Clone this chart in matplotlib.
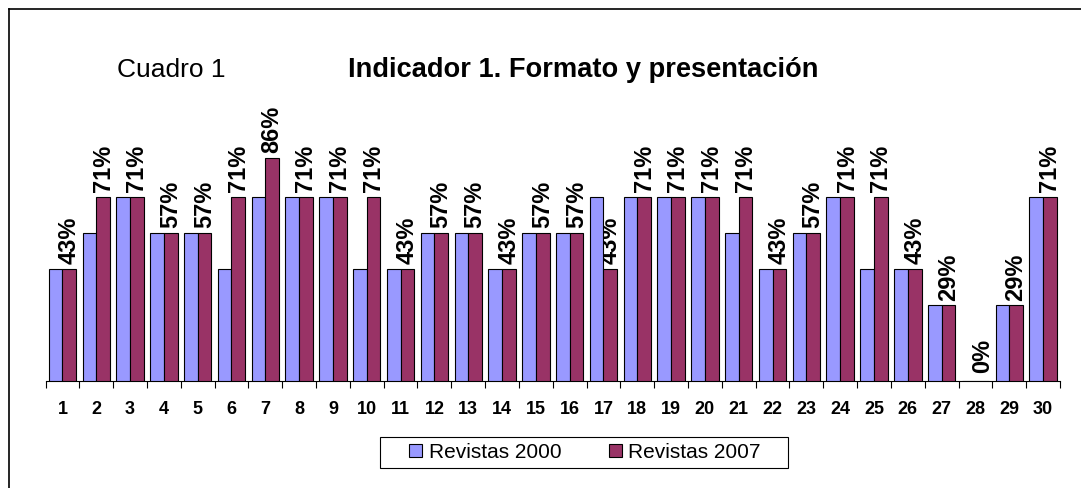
import matplotlib
matplotlib.use("Agg")
import matplotlib.pyplot as plt
from matplotlib.lines import Line2D
from matplotlib.patches import Patch, Rectangle
import numpy as np

plt.rcParams['font.family'] = ['Liberation Sans', 'DejaVu Sans']

categories = [str(i) for i in range(1, 31)]
revistas_2000 = [43, 57, 71, 57, 57, 43, 71, 71, 71, 43,
                 43, 57, 57, 43, 57, 57, 71, 71, 71, 71,
                 57, 43, 57, 71, 43, 43, 29, 0, 29, 71]
revistas_2007 = [43, 71, 71, 57, 57, 71, 86, 71, 71, 71,
                 43, 57, 57, 43, 57, 57, 43, 71, 71, 71,
                 71, 43, 57, 71, 71, 43, 29, 0, 29, 71]
series_names = ["Revistas 2000", "Revistas 2007"]
colors = ["#9999FF", "#993366"]

W, H = 1081, 488
fig = plt.figure(figsize=(W / 100, H / 100), dpi=100)
ax = fig.add_axes([45.5 / W, 1 - 380.5 / H, (1060 - 45.5) / W, (380.5 - 121.5) / H])

x = np.arange(1, len(categories) + 1)
bw = 0.405
ax.bar(x - bw / 2, revistas_2000, width=bw, color=colors[0], edgecolor="black",
       linewidth=0.8, zorder=3)
ax.bar(x + bw / 2, revistas_2007, width=bw, color=colors[1], edgecolor="black",
       linewidth=0.8, zorder=3)

for xi, v in zip(x, revistas_2007):
    ax.annotate(f"{v}%", xy=(xi + bw / 2, v), xytext=(0, 3.5 if v > 0 else 5.5),
                textcoords="offset points", ha="center", va="bottom",
                rotation=90, fontsize=17, fontweight="bold", zorder=2)

ax.set_xlim(0.5, len(categories) + 0.5)
ax.set_ylim(0, 100)
ax.set_xticks(x)
ax.set_xticklabels(categories, fontsize=13, fontweight="bold")
ax.set_xticks(np.arange(0.5, len(categories) + 1, 1), minor=True)
ax.tick_params(axis="x", which="major", length=0, pad=14.5)
ax.tick_params(axis="x", which="minor", length=5, width=0.8, direction="out")
ax.set_yticks([])
for s in ["left", "right", "top"]:
    ax.spines[s].set_visible(False)
ax.spines["bottom"].set_linewidth(0.8)

fig.text(117 / W, 1 - 77 / H, "Cuadro 1", fontsize=19, ha="left", va="baseline")
fig.text(348 / W, 1 - 77 / H, "Indicador 1. Formato y presentación", fontsize=19.6,
         fontweight="bold", ha="left", va="baseline")

handles = [Patch(facecolor=c, edgecolor="black", linewidth=0.8) for c in colors]
leg = fig.legend(handles, series_names, loc="center",
                 bbox_to_anchor=(585 / W, 1 - 452.5 / H), ncol=2, fontsize=15,
                 frameon=False, handlelength=0.63, handleheight=0.63,
                 handletextpad=0.32, columnspacing=2.25, borderpad=0.1)
fig.add_artist(Rectangle((380 / W, 1 - 468 / H), (788 - 380) / W, 31 / H,
                         transform=fig.transFigure, facecolor="none",
                         edgecolor="black", linewidth=0.8))

fig.add_artist(Line2D([9 / W, 9 / W], [0, 1 - 9 / H], transform=fig.transFigure,
                      color="black", linewidth=1.2))
fig.add_artist(Line2D([9 / W, 1], [1 - 9 / H, 1 - 9 / H], transform=fig.transFigure,
                      color="black", linewidth=1.2))

fig.savefig("out.png", dpi=100)
